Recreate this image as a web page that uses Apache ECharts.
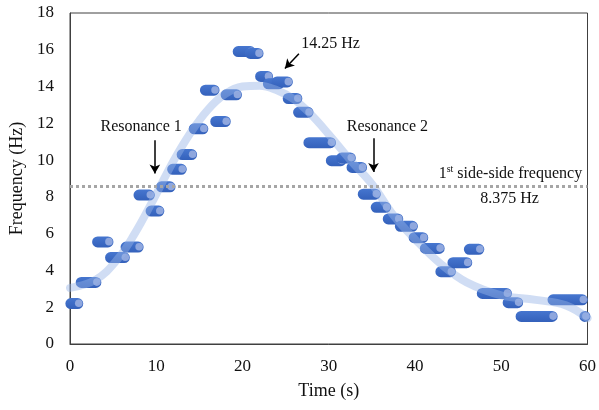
<!DOCTYPE html>
<html>
<head>
<meta charset="utf-8">
<script src="https://cdn.jsdelivr.net/npm/echarts@6/dist/echarts.min.js"></script>
<style>
  html, body { margin: 0; padding: 0; background: #fff; }
  #chart { width: 599px; height: 410px; }
</style>
</head>
<body>
<div id="chart"></div>
<script>
// runs of equal readings: start time, end time, frequency
const runStart = [0.1, 1.3, 3.2, 4.7, 6.5, 8.0, 9.4, 10.6, 11.9, 13.0, 14.4, 15.7, 16.9, 18.1, 19.5, 20.9, 22.1, 23.0, 24.0, 25.3, 26.5, 27.7, 30.3, 31.5, 32.7, 34.0, 35.5, 36.9, 38.3, 39.9, 41.2, 43.0, 44.4, 46.3, 47.8, 50.8, 52.3, 56.0, 59.7];
const runEnd   = [0.9, 3.0, 4.4, 6.3, 7.9, 9.2, 10.3, 11.6, 12.9, 14.1, 15.4, 16.7, 18.0, 19.3, 20.9, 21.8, 22.9, 24.2, 25.2, 26.3, 27.6, 30.2, 31.4, 32.5, 33.8, 35.4, 36.6, 38.0, 39.7, 40.9, 42.8, 44.1, 46.0, 47.4, 50.6, 51.9, 55.9, 59.4, 59.7];
const runFreq  = [2.2, 3.35, 5.55, 4.7, 5.27, 8.1, 7.23, 8.55, 9.5, 10.3, 11.7, 13.8, 12.1, 13.55, 15.9, 15.8, 14.55, 14.15, 14.25, 13.35, 12.6, 10.95, 9.97, 10.12, 9.6, 8.15, 7.43, 6.8, 6.4, 5.78, 5.2, 3.93, 4.42, 5.15, 2.75, 2.25, 1.5, 2.4, 1.5];

// trend curve
const trendTime = [0, 3, 5.5, 7.5, 9.5, 12, 14, 16, 18, 20, 22, 24, 26, 28, 30, 32.5, 35, 37.5, 40, 43, 46, 50, 54, 57.5, 60];
const trendFreq = [3.05, 3.5, 4.6, 6.0, 7.7, 9.95, 11.5, 12.75, 13.6, 14.0, 14.05, 13.8, 13.3, 12.45, 11.4, 10.0, 8.7, 7.0, 5.7, 4.35, 3.35, 2.65, 2.4, 2.1, 1.4];

const sideSideFreq = 8.6;
const xTicks = { min: 0, max: 60, step: 10 };
const yTicks = { min: 0, max: 18, step: 2 };

const serif = 'Liberation Serif';
const chart = echarts.init(document.getElementById('chart'));

function renderRun(params, api) {
    const a = api.coord([api.value(0), api.value(2)]);
    const b = api.coord([api.value(1), api.value(2)]);
    const r = 5.5;
    return {
        type: 'group',
        children: [
            {
                type: 'rect',
                shape: { x: a[0] - r, y: a[1] - r, width: b[0] - a[0] + 2 * r, height: 2 * r, r: r },
                style: {
                    fill: new echarts.graphic.LinearGradient(0, 0, 0, 1, [
                        { offset: 0, color: '#4676cf' },
                        { offset: 1, color: '#3461bb' }
                    ])
                }
            },
            {
                type: 'circle',
                shape: { cx: b[0] + 1, cy: b[1] - 0.3, r: 3.8 },
                style: { fill: '#8fa7de' }
            }
        ]
    };
}

const arrowLine = { color: '#000', width: 1.5, type: 'solid' };

chart.setOption({
    animation: false,
    grid: { left: 70, right: 9, top: 13, bottom: 66, show: true, borderColor: '#404040', borderWidth: 1 },
    xAxis: {
        type: 'value', min: xTicks.min, max: xTicks.max, interval: xTicks.step,
        name: 'Time (s)', nameLocation: 'middle', nameGap: 38,
        nameTextStyle: { fontFamily: serif, fontSize: 18, color: '#111' },
        axisLine: { lineStyle: { color: '#404040', width: 1 } },
        axisTick: { show: false },
        splitLine: { show: false },
        axisLabel: { margin: 14, fontFamily: serif, fontSize: 17, color: '#111' }
    },
    yAxis: {
        type: 'value', min: yTicks.min, max: yTicks.max, interval: yTicks.step,
        name: 'Frequency (Hz)', nameLocation: 'middle', nameGap: 43,
        nameTextStyle: { fontFamily: serif, fontSize: 18, color: '#111' },
        axisLine: { show: true, lineStyle: { color: '#404040', width: 1 } },
        axisTick: { show: false },
        splitLine: { show: false },
        axisLabel: { margin: 16, fontFamily: serif, fontSize: 17, color: '#111' }
    },
    series: [
        {
            type: 'custom',
            name: 'runs',
            renderItem: renderRun,
            data: runStart.map((s, i) => [s, runEnd[i], runFreq[i]]),
            encode: { x: [0, 1], y: 2 },
            z: 2,
            clip: false
        },
        {
            type: 'line',
            name: 'trend',
            data: trendTime.map((t, i) => [t, trendFreq[i]]),
            smooth: 0.4,
            showSymbol: false,
            lineStyle: { color: 'rgba(150,180,230,0.45)', width: 8, cap: 'round' },
            z: 3,
            markLine: {
                silent: true,
                animation: false,
                label: { show: false },
                data: [
                    [{ coord: [0, sideSideFreq], symbol: 'none', lineStyle: { color: '#a6a6a6', width: 3, type: [3, 3] } },
                     { coord: [60, sideSideFreq], symbol: 'none' }],
                    [{ coord: [9.84, 11.08], symbol: 'none', lineStyle: arrowLine },
                     { coord: [9.84, 9.27], symbol: 'arrow', symbolSize: [8, 9] }],
                    [{ coord: [35.19, 11.19], symbol: 'none', lineStyle: arrowLine },
                     { coord: [35.19, 9.35], symbol: 'arrow', symbolSize: [8, 9] }],
                    [{ coord: [26.54, 15.79], symbol: 'none', lineStyle: arrowLine },
                     { coord: [24.92, 14.98], symbol: 'arrow', symbolSize: [8, 9] }]
                ]
            }
        }
    ]
});

// annotation texts anchored to data coordinates
const notes = [
    { at: [8.25, 11.8], text: 'Resonance 1' },
    { at: [36.8, 11.8], text: 'Resonance 2' },
    { at: [30.2, 16.33], text: '14.25 Hz' },
    { at: [51.06, 9.27], text: '1{sup|st} side-side frequency' },
    { at: [50.96, 7.87], text: '8.375 Hz' }
];
chart.setOption({
    graphic: notes.map(n => {
        const p = chart.convertToPixel({ gridIndex: 0 }, n.at);
        return {
            type: 'text', x: p[0], y: p[1], z: 10,
            style: {
                text: n.text, fontFamily: serif, fontSize: 16, fill: '#111',
                align: 'center', verticalAlign: 'middle',
                rich: { sup: { fontFamily: serif, fontSize: 10, fill: '#111', verticalAlign: 'top', padding: [0, 0, 8, 0] } }
            }
        };
    })
});
window.addEventListener('resize', () => { chart.resize() });
</script>
</body>
</html>
